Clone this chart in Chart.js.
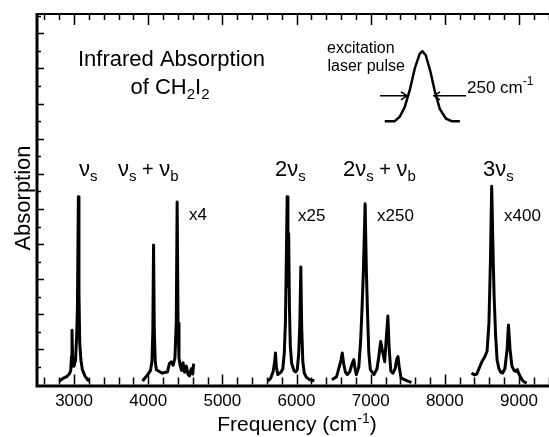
<!DOCTYPE html>
<html>
<head>
<meta charset="utf-8">
<script src="https://cdn.jsdelivr.net/npm/chart.js@4.4.1/dist/chart.umd.min.js"></script>
<style>
  html, body { margin: 0; padding: 0; background: #fff; }
  #wrap { width: 549px; height: 437px; }
</style>
</head>
<body>
<div id="wrap"><canvas id="ir" width="549" height="437"></canvas></div>
<script>
// frequency (cm-1) / absorption, one band group each
const nuS_freq = [2800, 2850, 2900, 2935, 2955, 2965, 2972, 2980, 2990, 3000, 3020, 3035, 3045, 3058, 3066, 3076, 3092, 3112, 3145, 3180, 3205];
const nuS_abs  = [0.2, 0.35, 0.45, 0.6, 0.8, 1.6, 3.1, 1.4, 1.05, 1.05, 1.4, 2.8, 4.3, 10.7, 5.2, 2.4, 1.4, 0.85, 0.5, 0.3, 0.2];

const nuSB_freq = [3925, 3950, 3990, 4030, 4050, 4062, 4072, 4082, 4095, 4110, 4150, 4190, 4230, 4260, 4285, 4310, 4335, 4360, 4378, 4390, 4402, 4415, 4430, 4450, 4470, 4490, 4515, 4535, 4555, 4580, 4600, 4612];
const nuSB_abs  = [0.2, 0.35, 0.55, 0.8, 1.3, 3.0, 7.95, 3.0, 1.3, 0.85, 0.75, 0.65, 0.7, 0.72, 1.2, 1.3, 1.1, 1.5, 3.5, 10.4, 3.5, 1.5, 1.1, 0.8, 1.25, 0.7, 1.05, 0.6, 0.5, 0.9, 0.6, 1.2];

const twoNuS_freq = [5612, 5650, 5685, 5705, 5716, 5728, 5748, 5790, 5815, 5835, 5850, 5862, 5874, 5884, 5894, 5904, 5916, 5935, 5965, 5990, 6010, 6030, 6045, 6058, 6070, 6085, 6105, 6135, 6180, 6240];
const twoNuS_abs  = [0.2, 0.35, 0.75, 1.3, 1.8, 1.0, 0.57, 0.7, 0.9, 1.8, 3.5, 7.0, 10.7, 5.6, 8.6, 4.5, 2.2, 1.2, 0.8, 0.72, 0.85, 1.8, 3.5, 6.7, 3.2, 1.3, 0.65, 0.4, 0.28, 0.22];

const twoNuSB_freq = [6477, 6540, 6575, 6600, 6617, 6635, 6660, 6685, 6720, 6750, 6772, 6790, 6806, 6840, 6865, 6885, 6902, 6925, 6942, 6958, 6975, 6995, 7045, 7085, 7110, 7135, 7160, 7189, 7210, 7232, 7250, 7272, 7300, 7330, 7352, 7368, 7385, 7410, 7450, 7500, 7550];
const twoNuSB_abs  = [0.28, 0.45, 1.0, 1.4, 1.8, 1.2, 0.7, 0.57, 0.75, 1.2, 1.42, 0.9, 0.57, 1.0, 2.5, 4.5, 6.5, 10.3, 6.5, 4.0, 1.8, 0.85, 0.57, 0.9, 1.6, 2.46, 1.9, 1.3, 2.6, 3.9, 2.0, 0.76, 0.65, 0.9, 1.45, 1.6, 1.0, 0.38, 0.3, 0.2, 0.13];

const threeNuS_freq = [8360, 8400, 8430, 8470, 8500, 8540, 8570, 8595, 8615, 8632, 8648, 8665, 8685, 8705, 8730, 8755, 8780, 8810, 8840, 8858, 8880, 8905, 8935, 8960, 8978, 9000, 9040, 9070, 9104];
const threeNuS_abs  = [0.66, 0.55, 0.6, 1.0, 1.3, 1.6, 1.9, 3.5, 7.0, 11.3, 8.0, 5.0, 2.8, 1.4, 0.9, 0.7, 0.66, 0.9, 2.0, 3.4, 2.0, 1.05, 0.8, 0.75, 0.85, 0.6, 0.28, 0.15, 0.08];

// schematic excitation pulse (inset)
const pulse_freq = [7190, 7325, 7392, 7459, 7527, 7595, 7662, 7699, 7743, 7807, 7865, 7932, 8014, 8090, 8203];
const pulse_abs  = [15.0, 15.0, 15.25, 15.8, 16.76, 18.0, 18.84, 18.98, 18.75, 17.8, 16.7, 15.7, 15.15, 15.0, 15.0];

const xTickLabels = [3000, 4000, 5000, 6000, 7000, 8000, 9000];
const xMinorStep = 200;
const yMinorStep = 1;

const FAM = '"Liberation Sans", Arial, Helvetica, sans-serif';

function pts(fs, as) {
    return fs.map((f, i) => ({ x: f, y: as[i] }));
}

function drawRuns(ctx, x, y, parts, align) {
    // parts: [text, size, dy]
    let w = 0;
    parts.forEach(p => {
        ctx.font = p[1] + 'px ' + FAM;
        w += ctx.measureText(p[0]).width;
    });
    let cx = align === 'center' ? x - w / 2 : x;
    parts.forEach(p => {
        ctx.font = p[1] + 'px ' + FAM;
        ctx.fillText(p[0], cx, y + (p[2] || 0));
        cx += ctx.measureText(p[0]).width;
    });
}

function arrow(ctx, x1, x2, y) {
    // line from x1 to x2, head at x2
    const dir = x2 > x1 ? 1 : -1;
    ctx.beginPath();
    ctx.moveTo(x1, y);
    ctx.lineTo(x2, y);
    ctx.moveTo(x2 - dir * 6, y - 4);
    ctx.lineTo(x2, y);
    ctx.lineTo(x2 - dir * 6, y + 4);
    ctx.stroke();
}

const decor = {
    id: 'decor',
    afterDraw(chart) {
        const ctx = chart.ctx;
        const a = chart.chartArea;
        const xs = chart.scales.x, ys = chart.scales.y;
        ctx.save();
        ctx.strokeStyle = '#000';
        ctx.fillStyle = '#000';
        ctx.lineCap = 'butt';

        // inward ticks, bottom and top
        ctx.lineWidth = 1.5;
        for (let v = Math.ceil(xs.min / xMinorStep) * xMinorStep; v <= xs.max; v += xMinorStep) {
            const px = Math.round(xs.getPixelForValue(v)) + 0.5;
            const major = v % 1000 === 0;
            ctx.beginPath();
            ctx.moveTo(px, a.bottom);
            ctx.lineTo(px, a.bottom - (major ? 10 : 7));
            ctx.moveTo(px, a.top);
            ctx.lineTo(px, a.top + (major ? 11 : 6));
            ctx.stroke();
        }
        // inward ticks, left
        for (let v = yMinorStep; v <= ys.max; v += yMinorStep) {
            const py = Math.round(ys.getPixelForValue(v)) + 0.5;
            const major = v % 2 === 0;
            ctx.beginPath();
            ctx.moveTo(a.left, py);
            ctx.lineTo(a.left + (major ? 7 : 4), py);
            ctx.stroke();
        }

        // frame
        ctx.lineWidth = 3;
        ctx.beginPath();
        ctx.moveTo(a.left, a.top - 1);
        ctx.lineTo(a.left, a.bottom + 1.5);
        ctx.lineTo(a.right, a.bottom + 1.5);
        ctx.stroke();
        ctx.lineWidth = 2.2;
        ctx.beginPath();
        ctx.moveTo(a.left, a.top);
        ctx.lineTo(a.right, a.top);
        ctx.stroke();

        // width arrows of the pulse
        ctx.lineWidth = 1.5;
        const ay = ys.getPixelForValue(16.44);
        arrow(ctx, 380, 407, ay);
        arrow(ctx, 466, 434, ay);

        // texts
        ctx.textBaseline = 'alphabetic';
        ctx.textAlign = 'left';
        drawRuns(ctx, 171.5, 66, [['Infrared Absorption', 22]], 'center');
        drawRuns(ctx, 170, 94, [['of CH', 22], ['2', 15, 5], ['I', 22], ['2', 15, 5]], 'center');

        drawRuns(ctx, 327, 53, [['excitation', 16]]);
        drawRuns(ctx, 327.5, 71, [['laser pulse', 16]]);
        drawRuns(ctx, 467, 93, [['250 cm', 17], ['-1', 12, -8]]);

        const band = [
            [79, [['ν', 22], ['s', 15, 5]]],
            [118, [['ν', 22], ['s', 15, 5], [' + ', 20], ['ν', 22], ['b', 15, 5]]],
            [275, [['2ν', 22], ['s', 15, 5]]],
            [343, [['2ν', 22], ['s', 15, 5], [' + ', 20], ['ν', 22], ['b', 15, 5]]],
            [483, [['3ν', 22], ['s', 15, 5]]]
        ];
        band.forEach(b => drawRuns(ctx, b[0], 176, b[1]));

        drawRuns(ctx, 189, 220, [['x4', 17]]);
        drawRuns(ctx, 298, 221, [['x25', 17]]);
        drawRuns(ctx, 377, 221, [['x250', 17]]);
        drawRuns(ctx, 504, 221, [['x400', 17]]);

        // axis titles
        drawRuns(ctx, 297, 431, [['Frequency (cm', 21], ['-1', 14, -8], [')', 21]], 'center');
        ctx.translate(30, 198);
        ctx.rotate(-Math.PI / 2);
        drawRuns(ctx, 0, 0, [['Absorption', 22]], 'center');
        ctx.restore();
    }
};

const line = (d, w) => ({
    data: d,
    borderColor: '#000',
    borderWidth: w,
    borderJoinStyle: 'round',
    pointRadius: 0,
    tension: 0,
    fill: false
});

new Chart(document.getElementById('ir').getContext('2d'), {
    type: 'line',
    data: {
        datasets: [
            line(pts(nuS_freq, nuS_abs), 3),
            line(pts(nuSB_freq, nuSB_abs), 3),
            line(pts(twoNuS_freq, twoNuS_abs), 3),
            line(pts(twoNuSB_freq, twoNuSB_abs), 3),
            line(pts(threeNuS_freq, threeNuS_abs), 3),
            line(pts(pulse_freq, pulse_abs), 2.5)
        ]
    },
    options: {
        responsive: false,
        animation: false,
        layout: { padding: { left: 37, top: 14, right: 0, bottom: 18 } },
        plugins: { legend: { display: false }, tooltip: { enabled: false } },
        scales: {
            x: {
                type: 'linear',
                min: 2500,
                max: 9405,
                grid: { display: false, drawTicks: false },
                border: { display: false },
                ticks: {
                    color: '#000',
                    font: { family: FAM, size: 17 },
                    padding: 7,
                    maxRotation: 0,
                    autoSkip: false,
                    callback: (v) => String(v)
                },
                afterBuildTicks: (s) => { s.ticks = xTickLabels.map(v => ({ value: v })); }
            },
            y: { display: false, min: 0, max: 21.1 }
        }
    },
    plugins: [decor]
});
</script>
</body>
</html>
